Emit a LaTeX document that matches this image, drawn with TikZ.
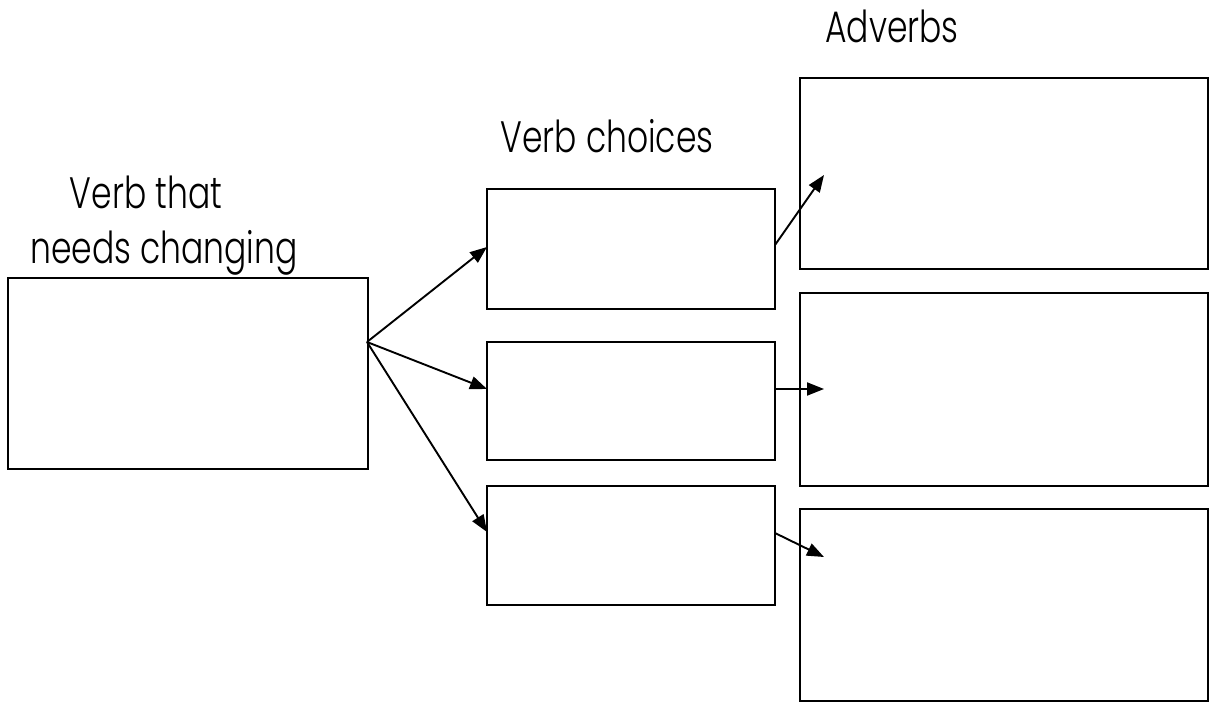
\documentclass[tikz,border=0pt]{standalone}
\usepackage{fontspec}
\setmainfont{Poppins}[UprightFont=* Light]
\usetikzlibrary{arrows.meta}
\newcommand{\narrowtxt}[1]{\scalebox{0.75}[1]{#1}}
\begin{document}
\begin{tikzpicture}[x=1pt,y=-1pt,
  box/.style={draw=black,line width=2.2pt},
  conn/.style={line width=1.9pt,-{Triangle[length=17pt,width=13pt]}},
  lbl/.style={font=\fontsize{44}{50}\selectfont,anchor=base,inner sep=0pt}]
\useasboundingbox (0,0) rectangle (1211,704);
% boxes
\draw[box] (8,278) rectangle (368,469);
\draw[box] (487,189) rectangle (775,309);
\draw[box] (487,342) rectangle (775,460);
\draw[box] (487,486) rectangle (775,605);
\draw[box] (800,78) rectangle (1208,269);
\draw[box] (800,293) rectangle (1208,486);
\draw[box] (800,509) rectangle (1208,701);
% connection points
\coordinate (o) at (367,342);
\coordinate (m1) at (487,247);
\coordinate (m2) at (487,389);
\coordinate (m3) at (487,532);
\coordinate (s1) at (775,245);
\coordinate (t1) at (824,175);
\coordinate (s2) at (775,389);
\coordinate (t2) at (824,389);
\coordinate (s3) at (775,533);
\coordinate (t3) at (824,557);
\draw[conn] (o) -- (m1);
\draw[conn] (o) -- (m2);
\draw[conn] (o) -- (m3);
\draw[conn] (s1) -- (t1);
\draw[conn] (s2) -- (t2);
\draw[conn] (s3) -- (t3);
% labels
\node[lbl] (adv) at (892,42) {\narrowtxt{Adverbs}};
\node[lbl] (vc) at (607,152) {\narrowtxt{Verb choices}};
\node[lbl] (vt) at (146,208) {\narrowtxt{Verb that}};
\node[lbl] (nc) at (164,263) {\narrowtxt{needs changing}};
\end{tikzpicture}
\end{document}
